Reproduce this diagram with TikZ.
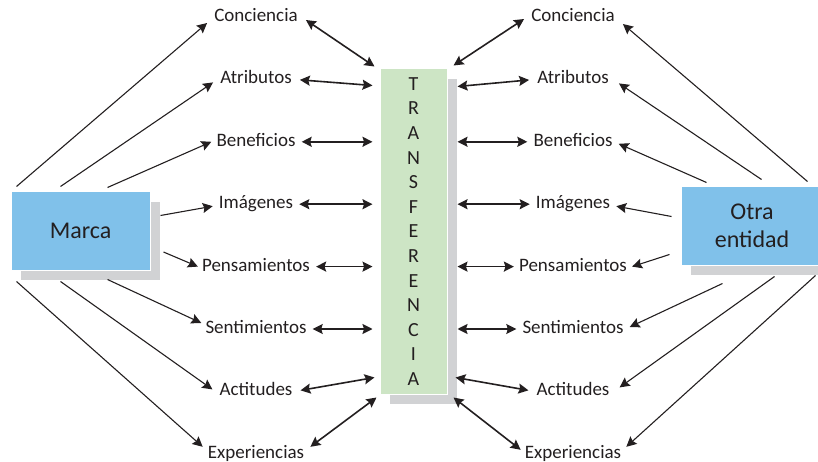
\documentclass[tikz,border=0pt]{standalone}
\usepackage{fontspec}
\setmainfont{Carlito}
\usetikzlibrary{arrows.meta,positioning,shadows}
\definecolor{BoxBlue}{HTML}{80C1EA}
\definecolor{BarGreen}{HTML}{CDE5C5}
\definecolor{Shade}{HTML}{D1D2D4}
\definecolor{Ink}{HTML}{231F20}

\begin{document}
\begin{tikzpicture}[x=1pt,y=-1pt,font=\fontsize{19}{22}\selectfont,text=Ink,node distance=41pt,
  >={Stealth[length=10pt,width=10pt,inset=1.5pt]},
  item/.style={inner sep=2pt,text height=13pt,text depth=4pt},
  box/.style={fill=BoxBlue,draw=white,line width=1pt,
    drop shadow={fill=Shade,opacity=1,shadow xshift=10pt,shadow yshift=-10pt}},
  link/.style={->,draw=Ink,line width=1.1pt},
  swap/.style={<->,draw=Ink,line width=1.6pt}]
\useasboundingbox (0,0) rectangle (818,462);
\node[box,minimum width=139pt,minimum height=78pt,font=\fontsize{24}{28}\selectfont] (marca) at (80.5,231) {Marca};
\node[box,minimum width=142pt,minimum height=78pt,align=center,font=\fontsize{24}{28}\selectfont] (otra) at (752,226) {Otra\\entidad};
\node[fill=BarGreen,draw=white,line width=1pt,minimum width=67pt,minimum height=325pt,align=center,
  drop shadow={fill=Shade,opacity=1,shadow xshift=10pt,shadow yshift=-10pt},
  font=\fontsize{20}{24.6}\selectfont] (transf) at (413.5,231.5)
  {T\\R\\A\\N\\S\\F\\E\\R\\E\\N\\C\\I\\A};
% left column
\node[item] (lc1) at (256,17) {Conciencia};
\node[item,below=of lc1] (lc2) {Atributos};
\node[item,below=of lc2] (lc3) {Beneficios};
\node[item,below=of lc3] (lc4) {Imágenes};
\node[item,below=of lc4] (lc5) {Pensamientos};
\node[item,below=of lc5] (lc6) {Sentimientos};
\node[item,below=of lc6] (lc7) {Actitudes};
\node[item,below=of lc7] (lc8) {Experiencias};
% right column
\node[item] (rc1) at (573,17) {Conciencia};
\node[item,below=of rc1] (rc2) {Atributos};
\node[item,below=of rc2] (rc3) {Beneficios};
\node[item,below=of rc3] (rc4) {Imágenes};
\node[item,below=of rc4] (rc5) {Pensamientos};
\node[item,below=of rc5] (rc6) {Sentimientos};
\node[item,below=of rc6] (rc7) {Actitudes};
\node[item,below=of rc7] (rc8) {Experiencias};
% Marca to the left column
\draw[link] ([xshift=6pt,yshift=5pt]marca.north west) -- ([xshift=-5pt,yshift=-6pt]lc1.west);
\draw[link] ([xshift=50pt,yshift=5pt]marca.north west) -- ([xshift=-5pt,yshift=-3pt]lc2.west);
\draw[link] ([xshift=97pt,yshift=4pt]marca.north west) -- ([xshift=-3pt]lc3.west);
\draw[link] ([xshift=10pt,yshift=-24pt]marca.north east) -- ([xshift=-4pt,yshift=-2pt]lc4.west);
\draw[link] ([xshift=13pt,yshift=-21pt]marca.east) -- ([xshift=-2pt]lc5.west);
\draw[link] ([xshift=97pt,yshift=-9pt]marca.south west) -- ([xshift=-2pt,yshift=6pt]lc6.west);
\draw[link] ([xshift=50pt,yshift=-11pt]marca.south west) -- ([xshift=-5pt,yshift=2pt]lc7.west);
\draw[link] ([xshift=6pt,yshift=-11pt]marca.south west) -- ([xshift=-3pt,yshift=7pt]lc8.west);
% left column to the bar
\draw[swap] ([xshift=6pt,yshift=-3pt]lc1.east) -- ([xshift=-5pt,yshift=2pt]transf.north west);
\draw[swap,shorten <=6pt] (lc2.east) -- ([xshift=-7pt,yshift=-17pt]transf.north west);
\draw[swap,shorten <=4pt,shorten >=7pt] (lc3.east) -- (lc3 -| transf.west);
\draw[swap,shorten <=4pt,shorten >=7pt] (lc4.east) -- (lc4 -| transf.west);
\draw[swap,shorten <=4pt,shorten >=7pt] (lc5.east) -- (lc5 -| transf.west);
\draw[swap,shorten <=4pt,shorten >=7pt] (lc6.east) -- (lc6 -| transf.west);
\draw[swap,shorten <=6pt] (lc7.east) -- ([xshift=-5pt,yshift=17pt]transf.south west);
\draw[swap] ([xshift=4pt,yshift=7pt]lc8.east) -- ([xshift=-3pt,yshift=-3pt]transf.south west);
% bar to the right column
\draw[swap] ([xshift=6pt,yshift=3pt]transf.north east) -- ([xshift=-5pt,yshift=-2pt]rc1.west);
\draw[swap,shorten >=6pt] ([xshift=10pt,yshift=-18pt]transf.north east) -- (rc2.west);
\draw[swap,shorten <=10pt,shorten >=4pt] (rc3 -| transf.east) -- (rc3.west);
\draw[swap,shorten <=10pt,shorten >=4pt] (rc4 -| transf.east) -- (rc4.west);
\draw[swap,shorten <=10pt,shorten >=3pt] (rc5 -| transf.east) -- (rc5.west);
\draw[swap,shorten <=10pt,shorten >=4pt] (rc6 -| transf.east) -- (rc6.west);
\draw[swap,shorten >=6pt] ([xshift=8pt,yshift=17pt]transf.south east) -- (rc7.west);
\draw[swap] ([xshift=6pt,yshift=-3pt]transf.south east) -- ([xshift=-2pt,yshift=4pt]rc8.west);
% Otra entidad to the right column
\draw[link] ([xshift=127pt,yshift=5pt]otra.north west) -- ([xshift=6pt,yshift=-7pt]rc1.east);
\draw[link] ([xshift=81pt,yshift=7pt]otra.north west) -- ([xshift=8pt,yshift=-4pt]rc2.east);
\draw[link] ([xshift=26pt,yshift=4pt]otra.north west) -- ([xshift=4pt,yshift=-2pt]rc3.east);
\draw[link] ([xshift=-9pt,yshift=-30pt]otra.north west) -- ([xshift=4pt,yshift=-2pt]rc4.east);
\draw[link] ([xshift=-11pt,yshift=-68pt]otra.north west) -- ([xshift=3pt]rc5.east);
\draw[link] ([xshift=42pt,yshift=-18pt]otra.south west) -- ([xshift=4pt,yshift=2pt]rc6.east);
\draw[link] ([xshift=94pt,yshift=-11pt]otra.south west) -- ([xshift=8pt,yshift=4pt]rc7.east);
\draw[link] ([xshift=135pt,yshift=-10pt]otra.south west) -- ([xshift=3pt,yshift=7pt]rc8.east);
\end{tikzpicture}
\end{document}
